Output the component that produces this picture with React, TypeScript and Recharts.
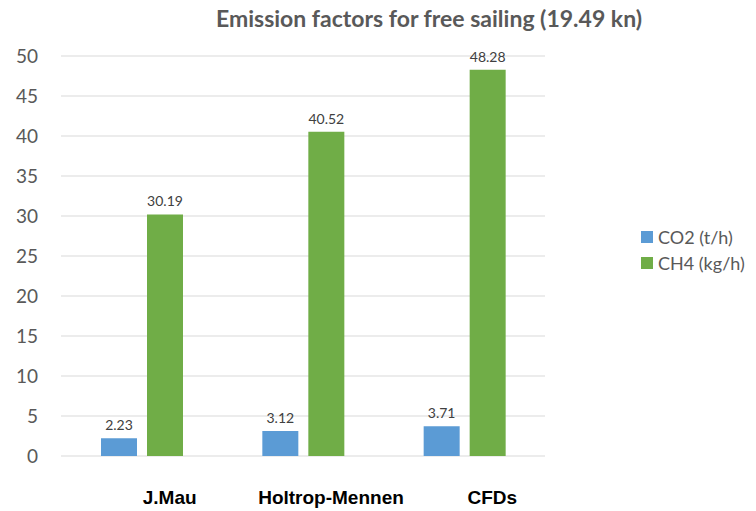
import React from 'react';
import { BarChart, Bar, XAxis, YAxis, CartesianGrid, LabelList } from 'recharts';

const methods = ['J.Mau', 'Holtrop-Mennen', 'CFDs'];
const co2 = [2.23, 3.12, 3.71];
const ch4 = [30.19, 40.52, 48.28];
const yTicks = [0, 5, 10, 15, 20, 25, 30, 35, 40, 45, 50];

const BLUE = '#5B9BD5';
const GREEN = '#70AD47';
const FONT = 'Lato, "Open Sans", sans-serif';

const data = methods.map((m, i) => ({ method: m, co2: co2[i], ch4: ch4[i] }));

const series = [
  { key: 'co2', name: 'CO2 (t/h)', color: BLUE },
  { key: 'ch4', name: 'CH4 (kg/h)', color: GREEN },
];

// category labels sit a bit right of the bar groups in the original
const CategoryTick = ({ x, y, payload }: any) => (
  <text
    x={x + 28}
    y={y}
    dy={14}
    textAnchor="middle"
    fontFamily='"Liberation Sans", Arial, sans-serif'
    fontWeight="bold"
    fontSize={19}
    fill="#000"
  >
    {payload.value}
  </text>
);

export default function App() {
  return (
    <div style={{ position: 'absolute', left: 0, top: 0, width: 756, height: 511, background: '#fff' }}>
      <div
        style={{
          position: 'absolute',
          left: 0,
          width: 858,
          top: 4,
          textAlign: 'center',
          fontFamily: FONT,
          fontWeight: 'bold',
          fontSize: 23,
          color: '#595959',
        }}
      >
        Emission factors for free sailing (19.49 kn)
      </div>
      {/* legend */}
      <div
        style={{
          position: 'absolute',
          left: 641,
          top: 224,
          fontFamily: FONT,
          fontSize: 18,
          color: '#595959',
        }}
      >
        {series.map((s) => (
          <div key={s.key} style={{ display: 'flex', alignItems: 'center', height: 26, whiteSpace: 'nowrap' }}>
            <span style={{ width: 12, height: 12, background: s.color, marginRight: 5, display: 'inline-block' }} />
            {s.name}
          </div>
        ))}
      </div>
      <BarChart
        width={756}
        height={511}
        data={data}
        margin={{ top: 56, right: 211, bottom: 25, left: 0 }}
        barSize={36}
        barGap={10}
      >
        <CartesianGrid vertical={false} stroke="#D9D9D9" />
        <XAxis
          dataKey="method"
          height={30}
          axisLine={false}
          tickLine={false}
          tickSize={0}
          tickMargin={34}
          tick={<CategoryTick />}
          interval={0}
        />
        <YAxis
          width={61}
          domain={[0, 50]}
          ticks={yTicks}
          axisLine={false}
          tickLine={false}
          tickSize={0}
          tickMargin={23}
          tick={{ fontFamily: FONT, fontSize: 19, fill: '#595959' }}
        />
        {series.map((s) => (
          <Bar key={s.key} dataKey={s.key} name={s.name} fill={s.color} isAnimationActive={false}>
            <LabelList
              dataKey={s.key}
              position="top"
              offset={8}
              style={{ fontFamily: FONT, fontSize: 14, fill: '#404040' }}
            />
          </Bar>
        ))}
      </BarChart>
    </div>
  );
}
